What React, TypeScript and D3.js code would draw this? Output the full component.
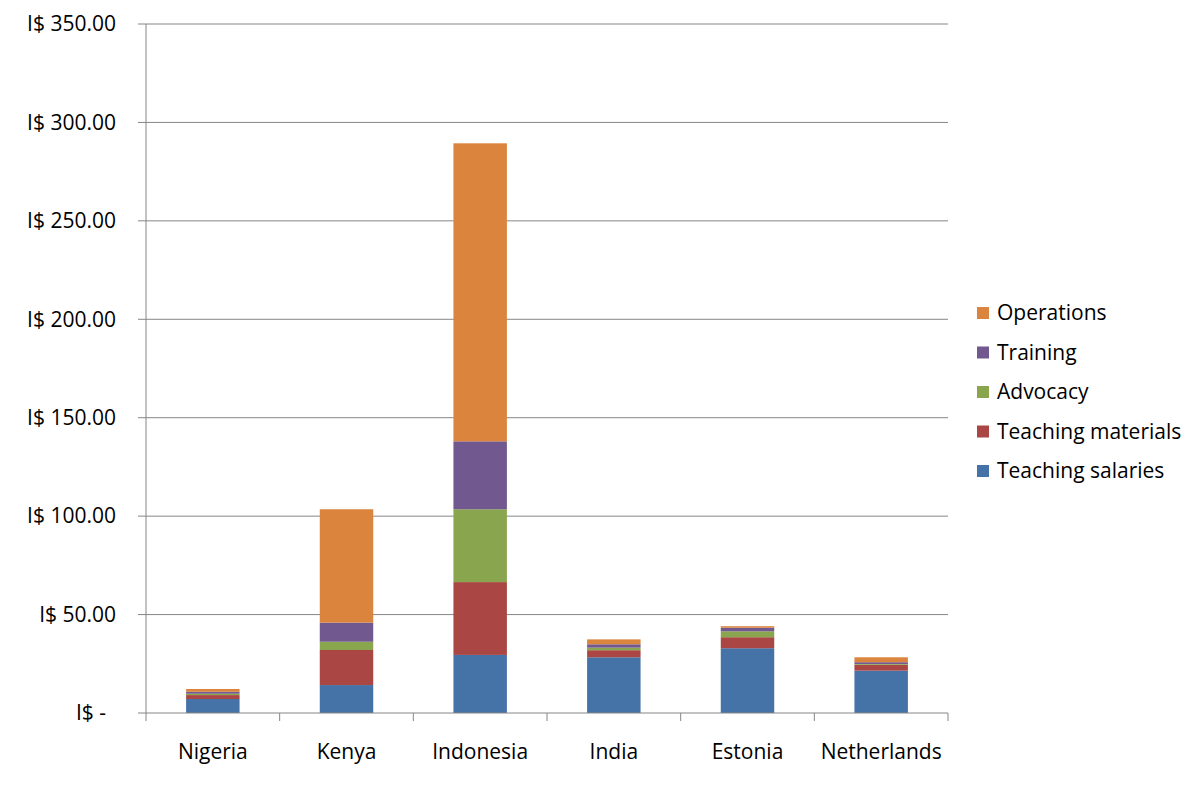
import React from "react";
import * as d3 from "d3";

const countries = ["Nigeria", "Kenya", "Indonesia", "India", "Estonia", "Netherlands"];
const seriesNames = ["Teaching salaries", "Teaching materials", "Advocacy", "Training", "Operations"];
const teachingSalaries = [7.1, 14.2, 29.5, 28.3, 32.9, 21.5];
const teachingMaterials = [2.0, 17.8, 37.0, 3.6, 5.6, 3.0];
const advocacy = [0.7, 4.2, 37.0, 1.3, 3.0, 0.4];
const training = [1.0, 9.7, 34.5, 1.7, 1.8, 0.9];
const operations = [1.4, 57.6, 151.4, 2.5, 0.8, 2.5];
const colors = ["#4572A7", "#AA4643", "#89A54E", "#71588F", "#DB843D"];
const yTicks = [0, 50, 100, 150, 200, 250, 300, 350];

const W = 1200, H = 785;
const left = 146, right = 948, top = 24, bottom = 713;
const font = "Open Sans, sans-serif";
const fs = 21;

export default function App() {
  const x = d3.scaleBand<string>().domain(countries).range([left, right]).paddingInner(0.6).paddingOuter(0.3);
  const y = d3.scaleLinear().domain([0, 350]).range([bottom, top]);
  const table = countries.map((c, i) => ({
    country: c,
    s0: teachingSalaries[i], s1: teachingMaterials[i], s2: advocacy[i], s3: training[i], s4: operations[i],
  }));
  const stack = d3.stack<any>().keys(["s0", "s1", "s2", "s3", "s4"]);
  const layers = stack(table);
  const band = (right - left) / countries.length;
  const fmt = (v: number) => (v === 0 ? "I$ -" : "I$ " + d3.format(",.2f")(v));
  const legendOrder = [4, 3, 2, 1, 0];
  return (
    <div style={{ margin: -8 }}>
      <svg width={W} height={H} style={{ display: "block", fontFamily: font }}>
        <rect x={0} y={0} width={W} height={H} fill="#fff" />
        <rect x={1} y={1} width={W - 3} height={H - 3} fill="none" stroke="#868686" strokeWidth={2} />
        {yTicks.map((t) => (
          <g key={t}>
            {t > 0 && <line x1={left} x2={right} y1={y(t)} y2={y(t)} stroke="#868686" strokeWidth={1} />}
            <line x1={left - 8} x2={left} y1={y(t)} y2={y(t)} stroke="#868686" strokeWidth={1} />
            <text x={t === 0 ? 106 : 116} y={y(t)} dy="0.35em" textAnchor="end" fontSize={fs} fill="#000">
              {fmt(t)}
            </text>
          </g>
        ))}
        {layers.map((layer, li) => (
          <g key={li} fill={colors[li]}>
            {layer.map((d, i) => (
              <rect key={i} x={x(countries[i])} width={x.bandwidth()} y={y(d[1])} height={y(d[0]) - y(d[1])} />
            ))}
          </g>
        ))}
        <line x1={left} x2={left} y1={top} y2={bottom} stroke="#868686" />
        <line x1={left} x2={right} y1={bottom} y2={bottom} stroke="#868686" />
        {d3.range(countries.length + 1).map((i) => (
          <line key={i} x1={left + i * band} x2={left + i * band} y1={bottom} y2={bottom + 8} stroke="#868686" />
        ))}
        {countries.map((c) => (
          <text key={c} x={(x(c) as number) + x.bandwidth() / 2} y={752} dy="0.35em" textAnchor="middle" fontSize={fs} fill="#000">
            {c}
          </text>
        ))}
        {legendOrder.map((si, k) => (
          <g key={si} transform={`translate(977, ${313 + k * 39.5})`}>
            <rect x={0} y={-6} width={12} height={12} fill={colors[si]} />
            <text x={20} y={0} dy="0.35em" fontSize={fs} fill="#000">{seriesNames[si]}</text>
          </g>
        ))}
      </svg>
    </div>
  );
}
